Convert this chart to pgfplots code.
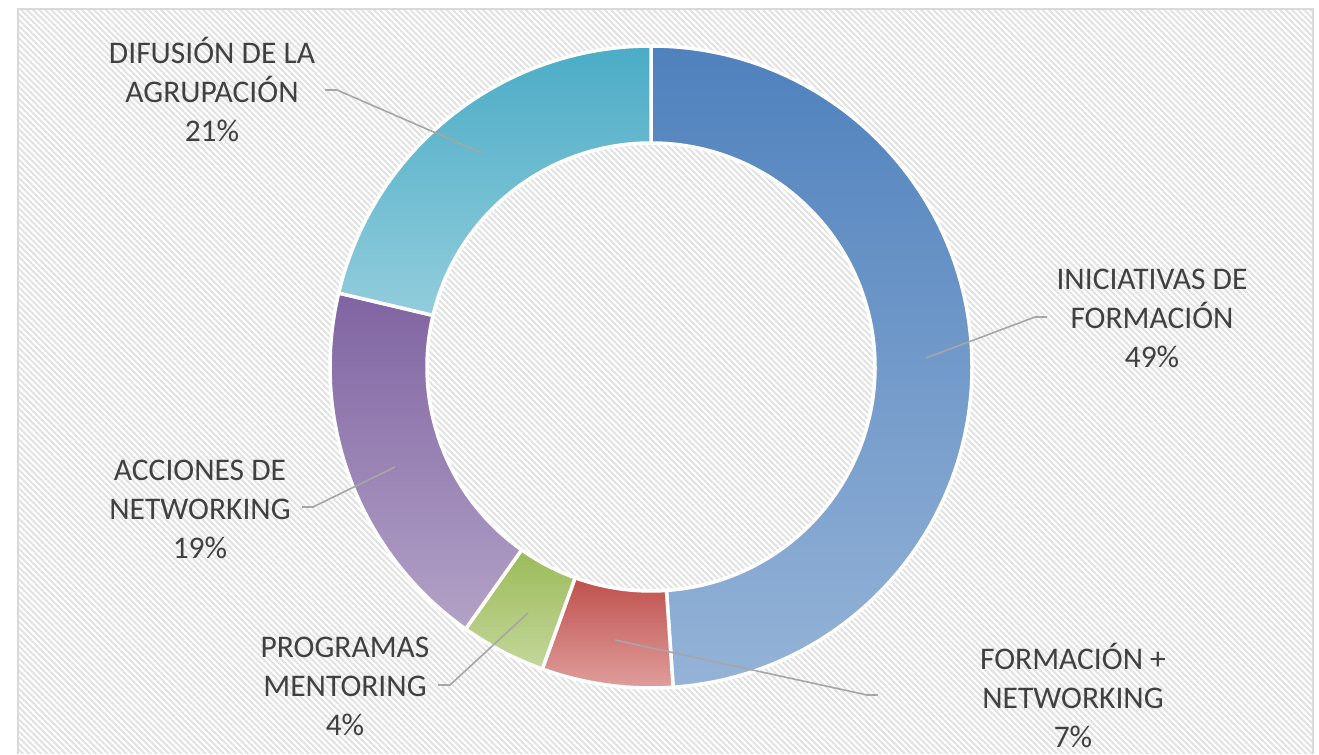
\documentclass[border=0pt]{standalone}
\usepackage{pgfplots}
\pgfplotsset{compat=1.18}
\usepackage{pgfplotstable}
\usepackage{fontspec}
\setmainfont{Carlito}
\usetikzlibrary{patterns.meta}

\definecolor{txt}{HTML}{404040}
\definecolor{lead}{HTML}{A6A6A6}
\definecolor{hatch}{HTML}{E2E2E2}
\definecolor{framecol}{HTML}{D9D9D9}
% slice colours (top / bottom of gradient)
\definecolor{ct0}{HTML}{4F81BD}\definecolor{cb0}{HTML}{95B3D7}
\definecolor{ct1}{HTML}{C0504D}\definecolor{cb1}{HTML}{E0A09E}
\definecolor{ct2}{HTML}{9BBB59}\definecolor{cb2}{HTML}{C4D79B}
\definecolor{ct3}{HTML}{8064A2}\definecolor{cb3}{HTML}{B3A2C7}
\definecolor{ct4}{HTML}{4BACC6}\definecolor{cb4}{HTML}{92CDDC}

% share (%) of each category, clockwise from the top
\pgfplotstableread{
label value
IniciativasFormacion 48.9
FormacionNetworking 6.6
ProgramasMentoring 4.3
AccionesNetworking 18.9
DifusionAgrupacion 21.3
}\piedata

\begin{document}
\begin{tikzpicture}
\begin{axis}[x=1bp,y=1bp,xmin=0,xmax=1319,ymin=0,ymax=754,
  hide axis,clip=false,scale only axis]
\fill[white] (axis cs:0,0) rectangle (axis cs:1319,754);
\fill[pattern={Lines[angle=-45,distance=4.3bp,line width=2bp]},pattern color=hatch]
  (axis cs:18,0) rectangle (axis cs:1313,745);
\draw[framecol,line width=2bp] (axis cs:18,0) -- (axis cs:18,745) -- (axis cs:1313,745) -- (axis cs:1313,0);

\pgfplotstablegetrowsof{\piedata}
\pgfmathtruncatemacro\N{\pgfplotsretval-1}
\gdef\curang{90}
\pgfplotsforeachungrouped \i in {0,...,\N}{%
  \pgfplotstablegetelem{\i}{value}\of\piedata
  \pgfmathsetmacro\nextang{\curang-3.6*\pgfplotsretval}%
  \edef\temp{\noexpand\path[shade,top color=ct\i,bottom color=cb\i,draw=white,line width=3.5bp,
     shift={(axis cs:651,387)}]
     (\curang:321bp) arc[start angle=\curang,end angle=\nextang,radius=321bp]
     -- (\nextang:224bp) arc[start angle=\nextang,end angle=\curang,radius=224bp] -- cycle;}%
  \temp
  \global\let\curang\nextang
}

\tikzset{ld/.style={lead,line width=1.6bp}}
\draw[ld] (axis cs:482,601) -- (axis cs:337,664) -- (axis cs:325,664);
\draw[ld] (axis cs:926,396) -- (axis cs:1035,437) -- (axis cs:1047,437);
\draw[ld] (axis cs:395,287) -- (axis cs:313,247) -- (axis cs:302,247);
\draw[ld] (axis cs:528,141) -- (axis cs:450,69) -- (axis cs:438,69);
\draw[ld] (axis cs:615,114) -- (axis cs:867,59) -- (axis cs:878,59);

\tikzset{lb/.style={text=txt,align=center,inner sep=0pt,font=\fontsize{31.5bp}{39bp}\selectfont}}
\node[lb] at (axis cs:212,665) {DIFUSIÓN DE LA\\AGRUPACIÓN\\21\%};
\node[lb] at (axis cs:1152,436) {INICIATIVAS DE\\FORMACIÓN\\49\%};
\node[lb] at (axis cs:200,245) {ACCIONES DE\\NETWORKING\\19\%};
\node[lb] at (axis cs:345,68) {PROGRAMAS\\MENTORING\\4\%};
\node[lb] at (axis cs:1073,59) {FORMACIÓN +\\NETWORKING\\7\%};
\end{axis}
\end{tikzpicture}
\end{document}
